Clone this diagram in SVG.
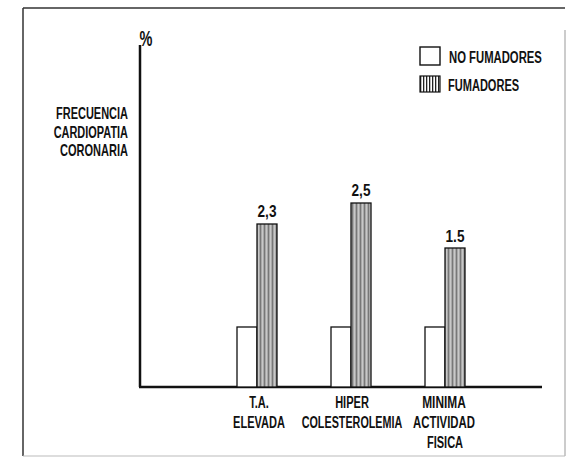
<svg xmlns="http://www.w3.org/2000/svg" width="568" height="458" viewBox="0 0 568 458">
<defs>
<pattern id="hatchBar" patternUnits="userSpaceOnUse" width="4" height="10">
<rect width="4" height="10" fill="#a8a8a8"/>
<rect x="0" width="1" height="10" fill="#777"/>
<rect x="2" width="1" height="10" fill="#c8c8c8"/>
</pattern>
<pattern id="hatchLegend" patternUnits="userSpaceOnUse" width="3" height="10">
<rect width="3" height="10" fill="#fff"/>
<rect x="0" width="1.3" height="10" fill="#222"/>
</pattern>
</defs>
<style>
.t{font-family:"Liberation Sans",Arial,sans-serif;font-weight:bold;fill:#111;font-size:17px}
.m{text-anchor:middle}
.e{text-anchor:end}
.frame{fill:none;stroke:#333;stroke-width:1.5}
.axis{stroke:#111;stroke-width:2.5;fill:none}
.wbar{fill:#fff;stroke:#111;stroke-width:1.3}
.hbar{fill:url(#hatchBar);stroke:#111;stroke-width:1.3}
</style>
<rect width="568" height="458" fill="#fff"/>
<g id="frame">
<line x1="23" y1="8" x2="565" y2="8" class="frame"/>
<line x1="23" y1="8" x2="23" y2="456" class="frame"/>
<line x1="565" y1="30" x2="565" y2="456" stroke="#aaa" stroke-width="1.2"/>
<line x1="23" y1="456" x2="565" y2="456" stroke="#bbb" stroke-width="1.2"/>
</g>
<g id="axes">
<line x1="140" y1="45" x2="140" y2="387" class="axis"/>
<line x1="139" y1="387" x2="542" y2="387" class="axis"/>
<text class="t m" transform="translate(146,46) scale(0.66,1)" style="font-size:22px">%</text>
</g>
<g id="ylabel">
<text class="t e" transform="translate(128,119) scale(0.646,1)">FRECUENCIA</text>
<text class="t e" transform="translate(128,137.5) scale(0.644,1)">CARDIOPATIA</text>
<text class="t e" transform="translate(128,156) scale(0.649,1)">CORONARIA</text>
</g>
<g id="legend">
<rect x="420" y="47" width="20" height="18" fill="#fff" stroke="#111" stroke-width="1.4"/>
<text class="t" transform="translate(449,63) scale(0.665,1)">NO FUMADORES</text>
<rect x="420" y="76" width="20" height="16" fill="url(#hatchLegend)" stroke="#111" stroke-width="1.2"/>
<text class="t" transform="translate(448,91) scale(0.65,1)">FUMADORES</text>
</g>
<g id="bar-ta">
<rect x="237" y="327" width="20" height="60" class="wbar"/>
<rect x="257" y="224" width="20" height="163" class="hbar"/>
<text class="t m" transform="translate(267,217) scale(0.8,1)">2,3</text>
<text class="t m" transform="translate(259,408) scale(0.65,1)">T.A.</text>
<text class="t m" transform="translate(259,428) scale(0.65,1)">ELEVADA</text>
</g>
<g id="bar-hiper">
<rect x="331" y="327" width="20" height="60" class="wbar"/>
<rect x="351" y="203" width="20" height="184" class="hbar"/>
<text class="t m" transform="translate(361,196) scale(0.8,1)">2,5</text>
<text class="t m" transform="translate(352,408) scale(0.65,1)">HIPER</text>
<text class="t m" transform="translate(352,428) scale(0.635,1)">COLESTEROLEMIA</text>
</g>
<g id="bar-minima">
<rect x="425" y="327" width="20" height="60" class="wbar"/>
<rect x="445" y="248" width="20" height="139" class="hbar"/>
<text class="t m" transform="translate(455,242) scale(0.8,1)">1.5</text>
<text class="t m" transform="translate(444,408) scale(0.7,1)">MINIMA</text>
<text class="t m" transform="translate(444,428) scale(0.67,1)">ACTIVIDAD</text>
<text class="t m" transform="translate(445,447.5) scale(0.65,1)">FISICA</text>
</g>
</svg>
